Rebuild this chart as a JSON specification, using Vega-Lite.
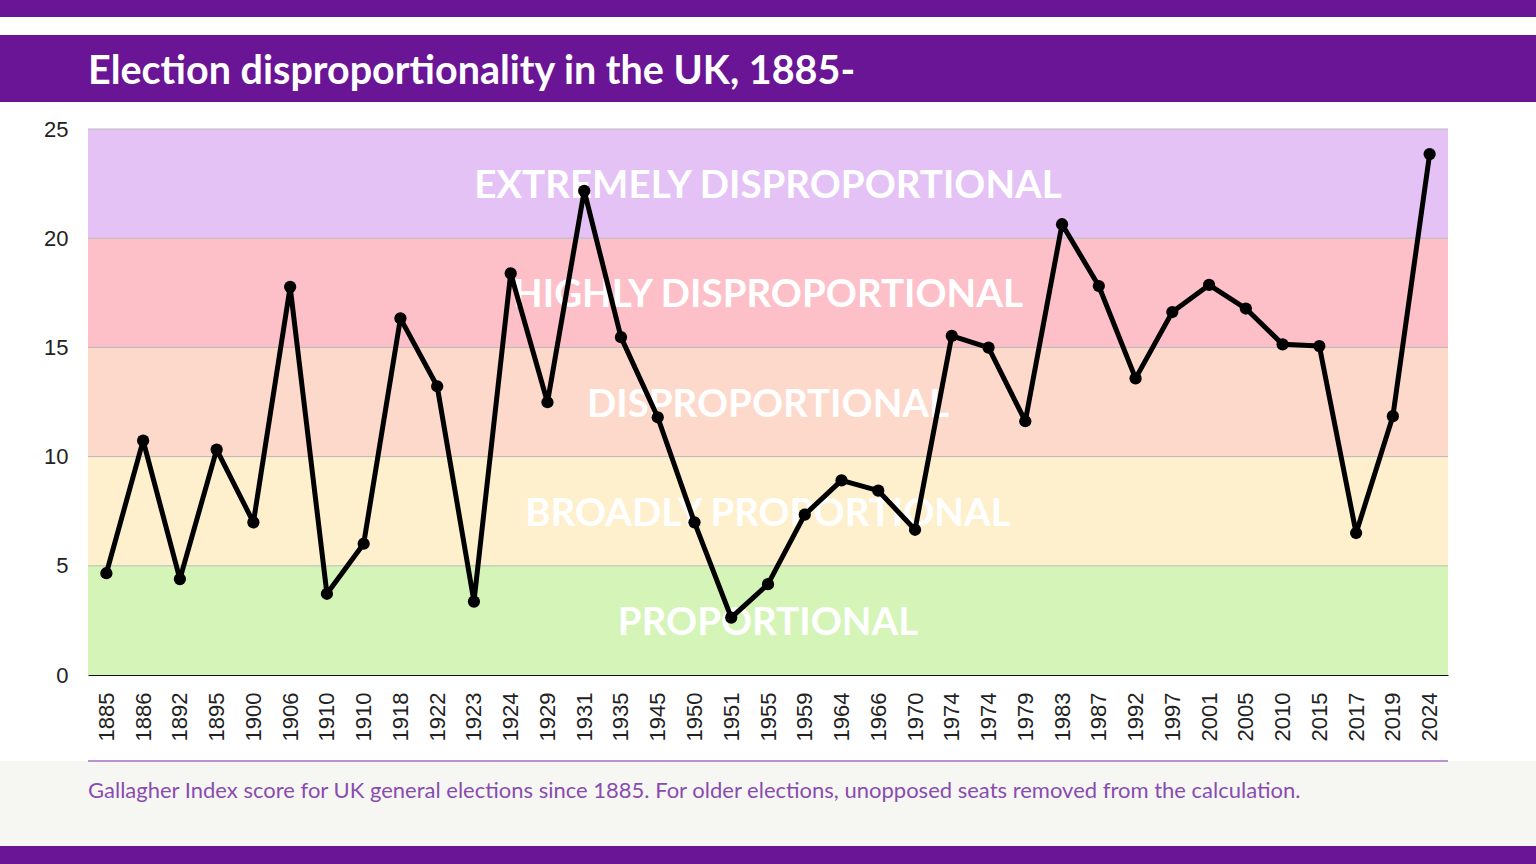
{
  "$schema": "https://vega.github.io/schema/vega-lite/v6.json",
  "background": "white",
  "padding": 0,
  "spacing": 0,
  "config": {
    "view": {"stroke": null},
    "concat": {"spacing": 0},
    "axisY": {
      "domain": false,
      "ticks": false,
      "grid": false,
      "offset": -88,
      "labelPadding": 20,
      "labelFont": "Liberation Sans",
      "labelFontSize": 22,
      "labelColor": "#222222",
      "tickCount": 5
    },
    "axisX": {
      "ticks": false,
      "grid": false,
      "domainColor": "#111111",
      "domainWidth": 1,
      "labelAngle": 270,
      "labelPadding": 17,
      "labelFont": "Liberation Sans",
      "labelFontSize": 22,
      "labelColor": "#222222"
    }
  },
  "datasets": {
    "one": [{}],
    "headline": [{"t": "Election disproportionality in the UK, 1885-"}],
    "note": [{"t": "Gallagher Index score for UK general elections since 1885. For older elections, unopposed seats removed from the calculation."}],
    "bands": [
      {"lo": 0, "hi": 5, "mid": 2.5, "label": "PROPORTIONAL"},
      {"lo": 5, "hi": 10, "mid": 7.5, "label": "BROADLY PROPORTIONAL"},
      {"lo": 10, "hi": 15, "mid": 12.5, "label": "DISPROPORTIONAL"},
      {"lo": 15, "hi": 20, "mid": 17.5, "label": "HIGHLY DISPROPORTIONAL"},
      {"lo": 20, "hi": 25, "mid": 22.5, "label": "EXTREMELY DISPROPORTIONAL"}
    ],
    "elections": [
      {"e": "1885", "g": 4.66},
      {"e": "1886", "g": 10.73},
      {"e": "1892", "g": 4.39},
      {"e": "1895", "g": 10.32},
      {"e": "1900", "g": 6.99},
      {"e": "1906", "g": 17.77},
      {"e": "1910 Jan", "g": 3.72},
      {"e": "1910 Dec", "g": 6.01},
      {"e": "1918", "g": 16.33},
      {"e": "1922", "g": 13.22},
      {"e": "1923", "g": 3.36},
      {"e": "1924", "g": 18.39},
      {"e": "1929", "g": 12.49},
      {"e": "1931", "g": 22.17},
      {"e": "1935", "g": 15.47},
      {"e": "1945", "g": 11.8},
      {"e": "1950", "g": 6.99},
      {"e": "1951", "g": 2.63},
      {"e": "1955", "g": 4.16},
      {"e": "1959", "g": 7.34},
      {"e": "1964", "g": 8.91},
      {"e": "1966", "g": 8.44},
      {"e": "1970", "g": 6.65},
      {"e": "1974 Feb", "g": 15.53},
      {"e": "1974 Oct", "g": 14.99},
      {"e": "1979", "g": 11.62},
      {"e": "1983", "g": 20.64},
      {"e": "1987", "g": 17.81},
      {"e": "1992", "g": 13.58},
      {"e": "1997", "g": 16.62},
      {"e": "2001", "g": 17.86},
      {"e": "2005", "g": 16.78},
      {"e": "2010", "g": 15.14},
      {"e": "2015", "g": 15.06},
      {"e": "2017", "g": 6.5},
      {"e": "2019", "g": 11.85},
      {"e": "2024", "g": 23.85}
    ]
  },
  "vconcat": [
    {
      "data": {"name": "one"},
      "width": 1536,
      "height": 17,
      "mark": {"type": "rect", "color": "#6a1596"}
    },
    {
      "data": {"name": "one"},
      "width": 1536,
      "height": 18,
      "mark": {"type": "rect", "opacity": 0}
    },
    {
      "width": 1536,
      "height": 67,
      "layer": [
        {
          "data": {"name": "one"},
          "mark": {"type": "rect", "color": "#6a1596"}
        },
        {
          "data": {"name": "headline"},
          "mark": {"type": "text", "color": "white", "font": "Lato", "fontSize": 39.5, "fontWeight": "bold", "align": "left", "baseline": "alphabetic"},
          "encoding": {
            "text": {"field": "t"},
            "x": {"datum": 0, "type": "quantitative", "scale": {"domain": [0, 1], "range": [88, 1448]}, "axis": null},
            "y": {"value": 49}
          }
        }
      ]
    },
    {
      "data": {"name": "one"},
      "width": 1536,
      "height": 16,
      "mark": {"type": "rect", "opacity": 0}
    },
    {
      "width": 1536,
      "height": 546,
      "resolve": {"scale": {"x": "independent"}, "axis": {"x": "independent"}},
      "layer": [
        {
          "data": {"name": "bands"},
          "mark": {"type": "rect"},
          "encoding": {
            "x": {"datum": 0, "type": "quantitative", "scale": {"domain": [0, 1], "range": [88, 1448]}, "axis": null},
            "x2": {"datum": 1},
            "y": {"field": "lo", "type": "quantitative", "title": null, "scale": {"domain": [0, 25], "nice": false}},
            "y2": {"field": "hi"},
            "color": {
              "field": "label",
              "type": "nominal",
              "legend": null,
              "scale": {
                "domain": ["PROPORTIONAL", "BROADLY PROPORTIONAL", "DISPROPORTIONAL", "HIGHLY DISPROPORTIONAL", "EXTREMELY DISPROPORTIONAL"],
                "range": ["#d5f5b8", "#fef0cd", "#fdd9cb", "#fdc0c8", "#e4c2f5"]
              }
            }
          }
        },
        {
          "data": {"name": "bands"},
          "mark": {"type": "rule", "color": "#b8b8b8", "strokeWidth": 1},
          "encoding": {
            "x": {"datum": 0, "type": "quantitative", "scale": {"domain": [0, 1], "range": [88, 1448]}, "axis": null},
            "x2": {"datum": 1},
            "y": {"field": "hi", "type": "quantitative", "title": null}
          }
        },
        {
          "data": {"name": "bands"},
          "mark": {"type": "text", "color": "white", "font": "Lato", "fontSize": 38.5, "fontWeight": "bold", "baseline": "middle", "align": "center", "dy": 2.5},
          "encoding": {
            "y": {"field": "mid", "type": "quantitative", "title": null},
            "text": {"field": "label"}
          }
        },
        {
          "data": {"name": "elections"},
          "mark": {"type": "line", "color": "black", "strokeWidth": 5, "strokeJoin": "round"},
          "encoding": {
            "x": {
              "field": "e",
              "type": "ordinal",
              "sort": null,
              "title": null,
              "scale": {"type": "point", "padding": 0.5, "range": [88, 1448]},
              "axis": {"labelExpr": "slice(datum.label, 0, 4)"}
            },
            "y": {"field": "g", "type": "quantitative", "title": null}
          }
        },
        {
          "data": {"name": "elections"},
          "mark": {"type": "point", "filled": true, "color": "black", "opacity": 1, "size": 150},
          "encoding": {
            "x": {
              "field": "e",
              "type": "ordinal",
              "sort": null,
              "title": null,
              "scale": {"type": "point", "padding": 0.5, "range": [88, 1448]},
              "axis": null
            },
            "y": {"field": "g", "type": "quantitative", "title": null}
          }
        }
      ]
    },
    {
      "data": {"name": "one"},
      "width": 1536,
      "height": 19,
      "mark": {"type": "rect", "opacity": 0}
    },
    {
      "width": 1536,
      "height": 85,
      "layer": [
        {"data": {"name": "one"}, "mark": {"type": "rect", "color": "#f6f7f3"}},
        {
          "data": {"name": "one"},
          "mark": {"type": "rule", "color": "#a46fc4", "strokeWidth": 1.5},
          "encoding": {
            "x": {"datum": 0, "type": "quantitative", "scale": {"domain": [0, 1], "range": [88, 1448]}, "axis": null},
            "x2": {"datum": 1},
            "y": {"value": 0}
          }
        },
        {
          "data": {"name": "note"},
          "mark": {"type": "text", "color": "#8a4bb0", "font": "Lato", "fontSize": 22, "align": "left", "baseline": "alphabetic"},
          "encoding": {
            "text": {"field": "t"},
            "x": {"datum": 0, "type": "quantitative", "scale": {"domain": [0, 1], "range": [88, 1448]}, "axis": null},
            "y": {"value": 37}
          }
        }
      ]
    },
    {
      "data": {"name": "one"},
      "width": 1536,
      "height": 18,
      "mark": {"type": "rect", "color": "#6a1596"}
    }
  ]
}
